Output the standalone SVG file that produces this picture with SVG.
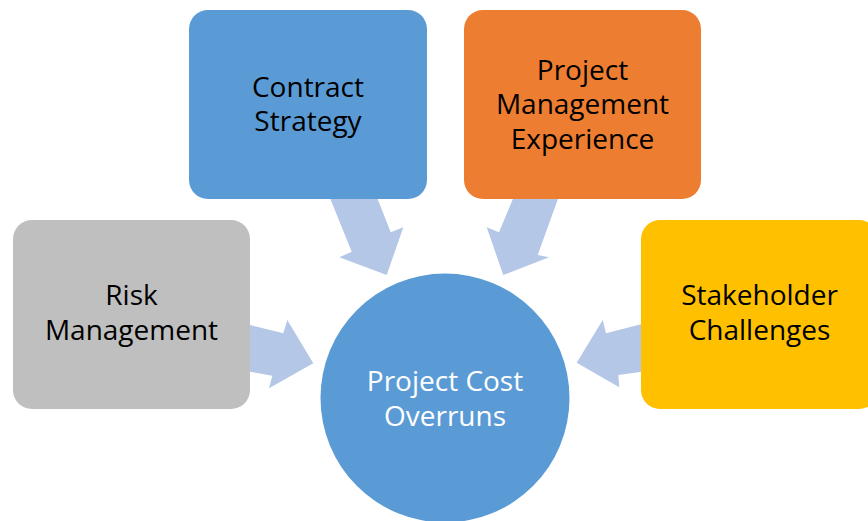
<svg xmlns="http://www.w3.org/2000/svg" width="868" height="521" viewBox="0 0 868 521">
  <style>
    .lbl { font-family: "Open Sans", "Noto Sans", "Liberation Sans", sans-serif; font-size: 28px; text-anchor: middle; fill: #000000; }
    .lbl-w { fill: #FFFFFF; }
    .arrow { fill: #B4C7E7; stroke: none; }
    .blue { fill: #5B9BD5; }
    .orange { fill: #ED7D31; }
    .gray { fill: #BFBFBF; }
    .yellow { fill: #FFC000; }
  </style>
  <rect width="868" height="521" fill="#FFFFFF"/>

  <!-- block arrows pointing into the central circle -->
  <g id="connectors">
    <polygon class="arrow" points="330,198 377.3,198 390.7,232.3 403.3,227.3 386.7,275 339.3,257.3 351.7,251.7"/>
    <polygon class="arrow" points="513.3,198 558.3,198 537.7,255 549,257.3 503.3,275 486.7,227.3 499,232.3"/>
    <polygon class="arrow" points="250,325 283.3,333.3 287.3,320 313.3,363.3 269,388.3 272.3,375.7 250,371.7"/>
    <polygon class="arrow" points="642,324 606,333.3 602.7,320 576.7,362.7 619.3,387.3 618.3,375 642,371.7"/>
  </g>

  <g id="contract-strategy">
    <rect class="blue" x="189" y="10" width="238" height="189" rx="19" ry="19"/>
    <text class="lbl" x="308" y="96.5"><tspan x="308">Contract</tspan><tspan x="308" dy="34.5">Strategy</tspan></text>
  </g>

  <g id="pm-experience">
    <rect class="orange" x="464" y="10" width="237" height="189" rx="19" ry="19"/>
    <text class="lbl" x="582.5" y="79.5"><tspan x="582.5">Project</tspan><tspan x="582.5" dy="34.5">Management</tspan><tspan x="582.5" dy="34.5">Experience</tspan></text>
  </g>

  <g id="risk-management">
    <rect class="gray" x="13" y="220" width="237" height="189" rx="19" ry="19"/>
    <text class="lbl" x="131.5" y="305"><tspan x="131.5">Risk</tspan><tspan x="131.5" dy="34.5">Management</tspan></text>
  </g>

  <g id="stakeholder-challenges">
    <rect class="yellow" x="641" y="220" width="237" height="189" rx="19" ry="19"/>
    <text class="lbl" x="759.5" y="305"><tspan x="759.5">Stakeholder</tspan><tspan x="759.5" dy="34.5">Challenges</tspan></text>
  </g>

  <g id="project-cost-overruns">
    <circle class="blue" cx="445" cy="398" r="124.5"/>
    <text class="lbl lbl-w" x="445" y="391"><tspan x="445">Project Cost</tspan><tspan x="445" dy="34.5">Overruns</tspan></text>
  </g>
</svg>
